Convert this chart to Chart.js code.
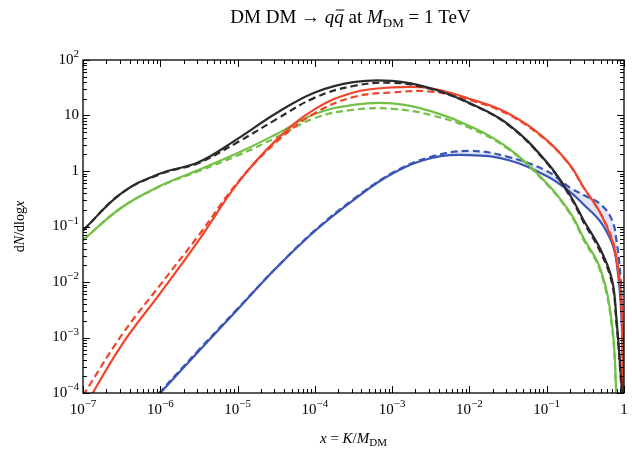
<!DOCTYPE html>
<html>
<head>
<meta charset="utf-8">
<script src="https://cdn.jsdelivr.net/npm/chart.js@4"></script>
<style>
  body { margin: 0; background: #fff; }
</style>
</head>
<body>
<canvas id="espectro" width="632" height="459"></canvas>
<script>
// x = K/M_DM
const xVals = [1e-7, 3.16e-7, 1e-6, 3.16e-6, 1e-5, 3.16e-5, 1e-4, 3.16e-4, 1e-3, 3.16e-3,
    1e-2, 3.16e-2, 0.1, 0.2, 0.3, 0.5, 0.7, 0.8, 0.9, 0.95, 0.98];

// dN/dlog x, curva cheia e tracejada para cada canal
const pretoCheio = [0.085, 0.40, 0.9, 1.45, 3.8, 11, 26, 40, 42, 31, 16.8, 7.0, 1.45, 0.37, 0.13, 0.038, 0.011, 0.0021, 2.6e-4, 8e-5, null];
const pretoTrac = [0.085, 0.40, 0.88, 1.4, 3.3, 8.5, 21, 34, 39, 30, 16.5, 6.8, 1.4, 0.35, 0.12, 0.034, 0.0095, 0.0018, 2.2e-4, 7e-5, null];
const vermelhoCheio = [5e-5, 7.3e-4, 6.3e-3, 0.057, 0.6, 3.6, 13, 26, 32, 31, 20, 11, 3.6, 1.28, 0.51, 0.17, 0.057, 0.025, 0.0072, 0.0014, 5e-5];
const vermelhoTrac = [9e-5, 1.1e-3, 8.9e-3, 0.07, 0.62, 3.3, 11, 21.5, 26, 27, 19, 10.5, 3.5, 1.25, 0.5, 0.17, 0.06, 0.026, 0.008, 0.0016, 6e-5];
const verdeCheio = [0.057, 0.22, 0.54, 1.05, 2.1, 4.6, 10.6, 15.5, 16.5, 12, 6.5, 2.6, 0.6, 0.18, 0.062, 0.0165, 0.0017, 9e-5, null, null, null];
const verdeTrac = [0.057, 0.22, 0.53, 1.0, 1.9, 4.0, 9.0, 12.7, 13.2, 10.2, 6.0, 2.5, 0.58, 0.17, 0.058, 0.015, 0.0015, 8e-5, null, null, null];
const azulCheio = [null, 1.7e-5, 1e-4, 5.7e-4, 3.2e-3, 0.0178, 0.083, 0.30, 0.89, 1.7, 1.94, 1.58, 0.81, 0.42, 0.25, 0.12, 0.05, 0.023, 0.0048, 9e-4, 5e-5];
const azulTrac = [null, 1.8e-5, 1.05e-4, 6e-4, 3.3e-3, 0.018, 0.085, 0.31, 0.92, 1.8, 2.3, 1.8, 1.0, 0.5, 0.37, 0.25, 0.13, 0.055, 0.013, 0.0022, 3e-4];

// expoentes dos rótulos dos eixos
const xExpoentes = [-7, -6, -5, -4, -3, -2, -1, 0];
const yExpoentes = [-4, -3, -2, -1, 0, 1, 2];

const FONTE = '"Liberation Serif", "DejaVu Serif", serif';

function pontos(ys) {
    const out = [];
    ys.forEach((v, i) => { if (v !== null) out.push({ x: xVals[i], y: v }); });
    return out;
}

function serie(ys, cor, tracejada, extra) {
    return Object.assign({
        data: pontos(ys),
        borderColor: cor,
        borderWidth: 2.2,
        borderDash: tracejada ? [7, 4] : [],
        pointRadius: 0,
        showLine: true,
        fill: false,
        tension: 0.4
    }, extra || {});
}

// texto com itálico, subscrito e sobrescrito
function fonteDe(p, tam) {
    const t = (p.sub || p.sup) ? Math.round(tam * 0.7) : tam;
    return (p.italic ? 'italic ' : '') + t + 'px ' + FONTE;
}
function textoRico(ctx, partes, x, y, tam, alinhamento) {
    let w = 0;
    partes.forEach(p => { ctx.font = fonteDe(p, tam); p.w = ctx.measureText(p.t).width; w += p.w; });
    let cx = alinhamento === 'center' ? x - w / 2 : alinhamento === 'right' ? x - w : x;
    ctx.textAlign = 'left';
    ctx.textBaseline = 'middle';
    partes.forEach(p => {
        ctx.font = fonteDe(p, tam);
        const dy = p.sub ? tam * 0.3 : p.sup ? -tam * 0.38 : 0;
        ctx.fillText(p.t, cx, y + dy);
        if (p.barra) {
            ctx.beginPath();
            ctx.lineWidth = 1;
            ctx.moveTo(cx + 1.5, y - tam * 0.42);
            ctx.lineTo(cx + p.w + 0.5, y - tam * 0.42);
            ctx.stroke();
        }
        cx += p.w;
    });
}

function rotuloPotencia(e) {
    if (e === 0) return [{ t: '1' }];
    if (e === 1) return [{ t: '10' }];
    return [{ t: '10' }, { t: (e < 0 ? '\u2212' : '') + Math.abs(e), sup: true }];
}

const moldura = {
    id: 'moldura',
    afterDraw(chart) {
        const { ctx, chartArea: a, scales: { x, y } } = chart;
        ctx.save();
        ctx.strokeStyle = '#000';
        ctx.fillStyle = '#000';
        ctx.lineWidth = 1.3;
        ctx.strokeRect(a.left, a.top, a.right - a.left, a.bottom - a.top);

        ctx.lineWidth = 1;
        ctx.beginPath();
        for (let e = -7; e <= 0; e++) {
            for (let m = 1; m <= 9; m++) {
                const v = m * Math.pow(10, e);
                if (v > 1.0001) break;
                const px = Math.round(x.getPixelForValue(v)) + 0.5;
                const len = m === 1 ? 7 : 4;
                ctx.moveTo(px, a.bottom); ctx.lineTo(px, a.bottom - len);
                ctx.moveTo(px, a.top); ctx.lineTo(px, a.top + len);
            }
        }
        for (let e = -4; e <= 2; e++) {
            for (let m = 1; m <= 9; m++) {
                const v = m * Math.pow(10, e);
                if (v > 100.01) break;
                const py = Math.round(y.getPixelForValue(v)) + 0.5;
                const len = m === 1 ? 7 : 4;
                ctx.moveTo(a.left, py); ctx.lineTo(a.left + len, py);
                ctx.moveTo(a.right, py); ctx.lineTo(a.right - len, py);
            }
        }
        ctx.stroke();

        xExpoentes.forEach(e => {
            textoRico(ctx, rotuloPotencia(e), x.getPixelForValue(Math.pow(10, e)), a.bottom + 17, 15, 'center');
        });
        yExpoentes.forEach(e => {
            textoRico(ctx, rotuloPotencia(e), a.left - 4, y.getPixelForValue(Math.pow(10, e)), 15, 'right');
        });

        // título
        textoRico(ctx, [
            { t: 'DM DM \u2192 ' }, { t: 'q', italic: true }, { t: 'q', italic: true, barra: true },
            { t: ' at ' }, { t: 'M', italic: true }, { t: 'DM', sub: true }, { t: ' = 1 TeV' }
        ], (a.left + a.right) / 2 - 3, 18, 19, 'center');

        // eixo x
        textoRico(ctx, [
            { t: 'x', italic: true }, { t: ' = ' }, { t: 'K', italic: true }, { t: '/' },
            { t: 'M', italic: true }, { t: 'DM', sub: true }
        ], (a.left + a.right) / 2, 439, 15, 'center');

        // eixo y
        ctx.translate(20, (a.top + a.bottom) / 2);
        ctx.rotate(-Math.PI / 2);
        textoRico(ctx, [
            { t: 'd' }, { t: 'N', italic: true }, { t: '/dlog' }, { t: 'x', italic: true }
        ], 0, 0, 14, 'center');
        ctx.restore();
    }
};

const ctxEspectro = document.getElementById('espectro').getContext('2d');
new Chart(ctxEspectro, {
    type: 'scatter',
    data: {
        datasets: [
            serie(pretoCheio, '#2b2b2b', false),
            serie(pretoTrac, '#2b2b2b', true),
            serie(vermelhoCheio, '#f0452b', false),
            serie(vermelhoTrac, '#f0452b', true),
            serie(verdeCheio, '#72c045', false),
            serie(verdeTrac, '#72c045', true),
            serie(azulCheio, '#3b55b5', false),
            serie(azulTrac, '#3b55b5', true, { fill: '-1', backgroundColor: 'rgba(120,140,225,0.22)' })
        ]
    },
    options: {
        responsive: false,
        animation: false,
        layout: { padding: { top: 60, right: 8, left: 0, bottom: 0 } },
        plugins: {
            legend: { display: false },
            tooltip: { enabled: false },
            title: { display: false }
        },
        scales: {
            x: {
                type: 'logarithmic',
                min: 1e-7,
                max: 1,
                grid: { display: false },
                border: { display: false },
                ticks: { display: false },
                afterFit: s => { s.height = 66; }
            },
            y: {
                type: 'logarithmic',
                min: 1e-4,
                max: 100,
                grid: { display: false },
                border: { display: false },
                ticks: { display: false },
                afterFit: s => { s.width = 83; }
            }
        }
    },
    plugins: [moldura]
});
</script>
</body>
</html>
